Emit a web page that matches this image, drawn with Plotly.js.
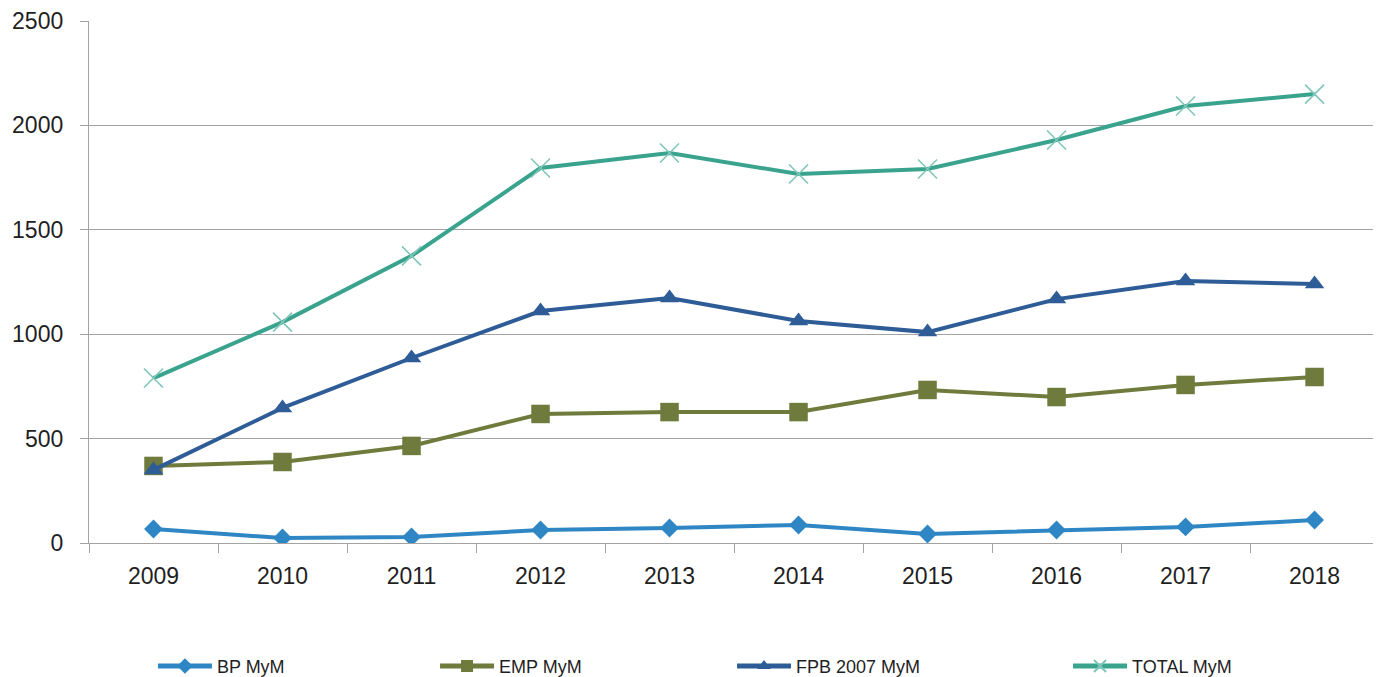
<!DOCTYPE html>
<html>
<head>
<meta charset="utf-8">
<script src="https://cdn.plot.ly/plotly-3.0.1.min.js"></script>
<style>
  html, body { margin: 0; padding: 0; background: #fff; }
  #chart { width: 1376px; height: 677px; }
</style>
</head>
<body>
<div id="chart"></div>
<script>
// Years on the category axis
const years = ['2009', '2010', '2011', '2012', '2013', '2014', '2015', '2016', '2017', '2018'];

// Series values
const bpMyM    = [67, 24, 29, 62, 72, 86, 43, 62, 77, 110];
const empMyM   = [369, 388, 465, 618, 627, 627, 733, 699, 757, 795];
const fpbMyM   = [350, 647, 886, 1111, 1173, 1063, 1010, 1168, 1255, 1240];
const totalMyM = [790, 1058, 1375, 1796, 1868, 1767, 1791, 1930, 2093, 2150];

// Series names as shown in the legend
const seriesNames = ['BP MyM', 'EMP MyM', 'FPB 2007 MyM', 'TOTAL MyM'];

const FONT = 'Liberation Sans, Arial, sans-serif';
const GRID = '#a3a3a3';

function series(name, y, color, symbol, size, legendId, markerColor, markerLine) {
  return {
    type: 'scatter',
    mode: 'lines+markers',
    name: name,
    x: years,
    y: y,
    legend: legendId,
    line: { color: color, width: 4 },
    marker: {
      symbol: symbol,
      size: size,
      color: markerColor || color,
      line: markerLine || { width: 0 }
    },
    hoverinfo: 'x+y+name'
  };
}

const traces = [
  series(seriesNames[0], bpMyM, '#2E87C4', 'diamond', 14.5, 'legend'),
  series(seriesNames[1], empMyM, '#6F7B3C', 'square', 18.5, 'legend2'),
  series(seriesNames[2], fpbMyM, '#2E5C97', 'triangle-up', 17, 'legend3'),
  series(seriesNames[3], totalMyM, '#3AA38E', 'x-thin-open', 19, 'legend4',
         '#7FC6BA', { width: 1.6, color: '#7FC6BA' })
];

// One legend per series so each entry sits at its own spot along the bottom
function legendAt(x) {
  return {
    orientation: 'h',
    x: x,
    xanchor: 'left',
    y: -0.2362,
    yanchor: 'middle',
    itemwidth: 54,
    itemsizing: 'constant',
    bgcolor: 'rgba(0,0,0,0)',
    borderwidth: 0,
    font: { family: FONT, size: 18, color: '#1f1f1f' },
    itemclick: false,
    itemdoubleclick: false
  };
}

const layout = {
  width: 1376,
  height: 677,
  margin: { l: 89, r: 3, t: 21, b: 134, pad: 0, autoexpand: false },
  paper_bgcolor: '#ffffff',
  plot_bgcolor: '#ffffff',
  font: { family: FONT, size: 23, color: '#1f1f1f' },
  showlegend: true,
  legend: legendAt(0.0498),
  legend2: legendAt(0.2695),
  legend3: legendAt(0.5008),
  legend4: legendAt(0.7625),
  xaxis: {
    type: 'category',
    range: [-0.5, 9.453],
    showgrid: false,
    zeroline: false,
    showline: true,
    linecolor: GRID,
    linewidth: 1.3,
    ticks: 'outside',
    tickson: 'boundaries',
    ticklen: 9,
    tickwidth: 1.3,
    tickcolor: GRID,
    ticklabelstandoff: 12,
    tickfont: { family: FONT, size: 23, color: '#1f1f1f' },
    fixedrange: true
  },
  yaxis: {
    range: [0, 2500],
    tickvals: [0, 500, 1000, 1500, 2000, 2500],
    showgrid: true,
    gridcolor: GRID,
    gridwidth: 1.3,
    zeroline: false,
    showline: true,
    linecolor: GRID,
    linewidth: 1.3,
    ticks: 'outside',
    ticklen: 8,
    tickwidth: 1.3,
    tickcolor: GRID,
    ticklabelstandoff: 12,
    tickfont: { family: FONT, size: 23, color: '#1f1f1f' },
    fixedrange: true
  }
};

Plotly.newPlot('chart', traces, layout, { displayModeBar: false });
</script>
</body>
</html>
